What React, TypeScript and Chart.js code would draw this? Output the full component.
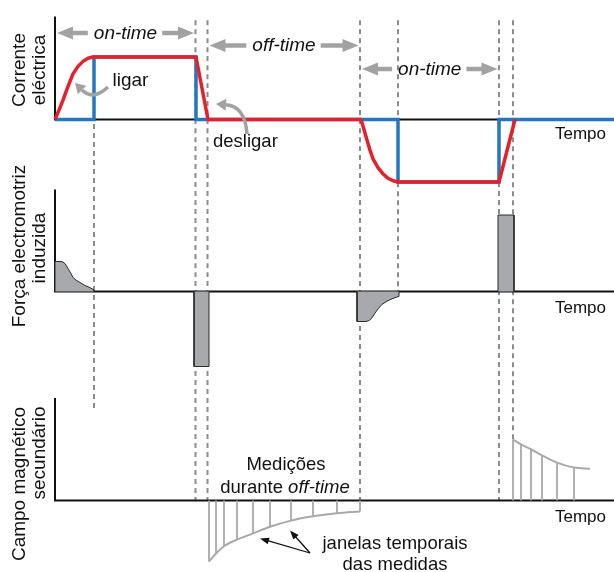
import { useEffect, useRef } from "react";
import { Chart, registerables } from "chart.js";

Chart.register(...registerables);

// ---- Data (time in arbitrary units; 0 = start of first on-time) ----
// Panel 1: transmitter current
const blueTimes = [0, 39, 39, 141, 141, 343, 343, 444, 444, 559];
const blueValues = [0, 0, 1, 1, 0, 0, -1, -1, 0, 0];
const redTimes = [0, 4, 8, 13, 18, 23, 28, 33, 38, 141, 153, 306, 309, 312, 315, 318, 323, 328, 333, 338, 343, 444, 460];
const redValues = [0, 0.15, 0.31, 0.53, 0.73, 0.85, 0.93, 0.98, 1, 1, 0, 0, -0.16, -0.33, -0.49, -0.63, -0.77, -0.87, -0.94, -0.98, -1, -1, 0];

// Panel 2: induced electromotive force
const emfOnTimes = [0, 0, 7, 10, 13, 16, 18, 21, 25, 30, 35, 39, 39];
const emfOnValues = [0, 1, 1, 0.93, 0.77, 0.6, 0.47, 0.38, 0.3, 0.2, 0.13, 0.05, 0];
const emfOffTimes = [139, 139, 154, 154];
const emfOffValues = [0, -2.5, -2.5, 0];
const emfOn2Times = [302, 302, 311, 314, 317, 320, 323, 327, 332, 338, 344, 344];
const emfOn2Values = [0, -1, -1, -0.97, -0.88, -0.72, -0.58, -0.43, -0.32, -0.23, -0.16, 0];
const emfOff2Times = [443, 443, 459, 459];
const emfOff2Values = [0, 2.55, 2.55, 0];

// Panel 3: secondary magnetic field (off-time decays) and measurement windows
const magOff1Times = [154, 161, 169, 182, 198, 215, 236, 258, 282, 305];
const magOff1Values = [-1, -0.87, -0.75, -0.64, -0.54, -0.43, -0.33, -0.26, -0.21, -0.18];
const magOff2Times = [458, 466, 476, 487, 502, 519, 535];
const magOff2Values = [1, 0.92, 0.84, 0.74, 0.62, 0.54, 0.52];
const magOff2WindowCount = 6;

// Event times (dashed guides)
const tOn1 = 39, tOff1 = 140.5, tOff1End = 152.5, tOn2 = 305, tOn2Full = 343, tOff2 = 444, tOff2End = 458;

const W = 614, H = 572;
const FONT = "'Liberation Sans', Arial, Helvetica, sans-serif";
const GRAY = "#a2a2a2";

const pts = (ts: number[], vs: number[]) => ts.map((t, i) => ({ x: t, y: vs[i] }));
const windows = (ts: number[], vs: number[], n: number) =>
  ts.slice(0, n).flatMap((t, i) => [{ x: t, y: 0 }, { x: t, y: vs[i] }, { x: t, y: null as any }]);

function arrow(ctx: CanvasRenderingContext2D, x1: number, y1: number, x2: number, y2: number, color: string, width: number, head: number, half: number) {
  const a = Math.atan2(y2 - y1, x2 - x1);
  const bx = x2 - head * Math.cos(a), by = y2 - head * Math.sin(a);
  ctx.strokeStyle = color; ctx.fillStyle = color; ctx.lineWidth = width; ctx.lineCap = "butt";
  ctx.beginPath(); ctx.moveTo(x1, y1); ctx.lineTo(bx + Math.cos(a), by + Math.sin(a)); ctx.stroke();
  ctx.beginPath(); ctx.moveTo(x2, y2);
  ctx.lineTo(bx + half * Math.sin(a), by - half * Math.cos(a));
  ctx.lineTo(bx - half * Math.sin(a), by + half * Math.cos(a));
  ctx.closePath(); ctx.fill();
}

function curvedArrow(ctx: CanvasRenderingContext2D, x0: number, y0: number, cx: number, cy: number, x1: number, y1: number) {
  const a = Math.atan2(y1 - cy, x1 - cx);
  const head = 10, half = 6;
  const bx = x1 - head * Math.cos(a), by = y1 - head * Math.sin(a);
  ctx.strokeStyle = GRAY; ctx.fillStyle = GRAY; ctx.lineWidth = 3.5; ctx.lineCap = "butt";
  ctx.beginPath(); ctx.moveTo(x0, y0); ctx.quadraticCurveTo(cx, cy, bx, by); ctx.stroke();
  ctx.beginPath(); ctx.moveTo(x1, y1);
  ctx.lineTo(bx + half * Math.sin(a), by - half * Math.cos(a));
  ctx.lineTo(bx - half * Math.sin(a), by + half * Math.cos(a));
  ctx.closePath(); ctx.fill();
}

function rotText(ctx: CanvasRenderingContext2D, text: string, x: number, cy: number) {
  ctx.save();
  ctx.translate(x, cy); ctx.rotate(-Math.PI / 2);
  ctx.textAlign = "center"; ctx.textBaseline = "alphabetic";
  ctx.fillText(text, 0, 0);
  ctx.restore();
}

const overlay = {
  id: "overlay",
  beforeDatasetsDraw(chart: any) {
    const ctx: CanvasRenderingContext2D = chart.ctx;
    const xs = chart.scales.x, yc = chart.scales.yCur, ye = chart.scales.yEmf, ym = chart.scales.yMag;
    const X = (t: number) => xs.getPixelForValue(t);
    ctx.save();
    // dashed guides
    ctx.strokeStyle = "#8c8c8c"; ctx.lineWidth = 2; ctx.setLineDash([5, 4]);
    const top = yc.getPixelForValue(1.59);
    const guides: [number, number, number][] = [
      [tOn1, yc.getPixelForValue(-0.07), ym.getPixelForValue(1.48)],
      [tOff1, top, ym.getPixelForValue(0)],
      [tOff1End, top, ym.getPixelForValue(0)],
      [tOn2, top, ym.getPixelForValue(0)],
      [tOn2Full, top, ye.getPixelForValue(0)],
      [tOff2, top, ym.getPixelForValue(0)],
      [tOff2End, top, ym.getPixelForValue(magOff2Values[0])],
    ];
    for (const [t, y0, y1] of guides) {
      ctx.beginPath(); ctx.moveTo(X(t), y0); ctx.lineTo(X(t), y1); ctx.stroke();
    }
    ctx.setLineDash([]);
    // axes
    ctx.strokeStyle = "#111"; ctx.lineWidth = 2;
    const axes: [any, number][] = [[yc, 1.65], [ye, 3.4], [ym, 1.68]];
    for (const [s, tv] of axes) {
      const y0 = s.getPixelForValue(0);
      ctx.beginPath(); ctx.moveTo(X(0), s.getPixelForValue(tv)); ctx.lineTo(X(0), y0); ctx.lineTo(xs.right, y0); ctx.stroke();
    }
    ctx.restore();
  },
  afterDatasetsDraw(chart: any) {
    const ctx: CanvasRenderingContext2D = chart.ctx;
    const xs = chart.scales.x;
    const X = (t: number) => xs.getPixelForValue(t);
    ctx.save();
    // on-time / off-time double arrows
    ctx.font = `italic 19px ${FONT}`;
    ctx.textAlign = "center"; ctx.textBaseline = "alphabetic";
    const spans: [string, number, number, number][] = [
      ["on-time", 0, tOff1, 33],
      ["off-time", tOff1End, tOn2, 45.5],
      ["on-time", tOn2, tOff2, 69],
    ];
    for (const [label, t0, t1, y] of spans) {
      const xa = X(t0) + 2, xb = X(t1) - 1.5;
      const cx = (xa + xb) / 2;
      const w = ctx.measureText(label).width;
      ctx.fillStyle = "#111";
      ctx.fillText(label, cx, y + 5.5);
      arrow(ctx, cx - w / 2 - 6, y, xa, y, GRAY, 4.5, 16, 6.5);
      arrow(ctx, cx + w / 2 + 5, y, xb, y, GRAY, 4.5, 16, 6.5);
    }
    // ligar / desligar
    ctx.fillStyle = "#111"; ctx.textAlign = "left";
    ctx.font = `19px ${FONT}`;
    ctx.fillText("ligar", 112.5, 86);
    ctx.font = `18.5px ${FONT}`;
    ctx.fillText("desligar", 213, 146.5);
    curvedArrow(ctx, 108, 87, 93, 101, 75, 83);
    curvedArrow(ctx, 247, 134, 245, 106, 216, 104);
    // Tempo labels
    ctx.fillStyle = "#111"; ctx.font = `17px ${FONT}`; ctx.textAlign = "left";
    ctx.fillText("Tempo", 555, 139);
    ctx.fillText("Tempo", 555, 313);
    ctx.fillText("Tempo", 555, 522);
    // axis titles
    ctx.font = `19px ${FONT}`;
    rotText(ctx, "Corrente", 25, 70);
    rotText(ctx, "eléctrica", 45, 70);
    rotText(ctx, "Força electromotriz", 25, 246);
    rotText(ctx, "induzida", 45, 248);
    rotText(ctx, "Campo magnético", 25, 484);
    rotText(ctx, "secundário", 45, 453);
    // measurement captions
    ctx.font = `18.5px ${FONT}`; ctx.textAlign = "center";
    ctx.fillText("Medições", 286, 470);
    const p1 = "durante ", p2 = "off-time";
    const w1 = ctx.measureText(p1).width;
    ctx.font = `italic 18.5px ${FONT}`;
    const w2 = ctx.measureText(p2).width;
    const start = 285 - (w1 + w2) / 2;
    ctx.textAlign = "left";
    ctx.font = `18.5px ${FONT}`; ctx.fillText(p1, start, 493);
    ctx.font = `italic 18.5px ${FONT}`; ctx.fillText(p2, start + w1, 493);
    ctx.font = `18.5px ${FONT}`; ctx.textAlign = "center";
    ctx.fillText("janelas temporais", 395, 549);
    ctx.fillText("das medidas", 395, 570);
    // thin black pointer arrows
    arrow(ctx, 310, 553, 260, 538.5, "#111", 1.3, 9, 3.5);
    arrow(ctx, 310, 553, 290, 530.5, "#111", 1.3, 9, 3.5);
    ctx.restore();
  },
};

export default function App() {
  const ref = useRef<HTMLCanvasElement>(null);
  useEffect(() => {
    const canvas = ref.current!;
    const yAxis = (baseline: number, unit: number) => ({
      type: "linear" as const, display: false, bounds: "data" as const,
      min: -(H - baseline) / unit, max: baseline / unit,
    });
    const emfStyle = { yAxisID: "yEmf", borderColor: "#2a2a2a", borderWidth: 1, backgroundColor: "#a7a9ac", fill: "origin", order: 2 };
    const magStyle = { yAxisID: "yMag", borderColor: "#a9a9a9", fill: false, order: 3 };
    const chart = new Chart(canvas, {
      type: "line",
      data: {
        datasets: [
          { label: "Corrente (rampa)", data: pts(redTimes, redValues), yAxisID: "yCur", borderColor: "#e6202b", borderWidth: 3.5, borderJoinStyle: "round", fill: false, order: 0 },
          { label: "Corrente", data: pts(blueTimes, blueValues), yAxisID: "yCur", borderColor: "#2676bf", borderWidth: 3.5, borderJoinStyle: "miter", fill: false, order: 1 },
          { label: "fem 1", data: pts(emfOnTimes, emfOnValues), ...emfStyle },
          { label: "fem 2", data: pts(emfOffTimes, emfOffValues), ...emfStyle },
          { label: "fem 3", data: pts(emfOn2Times, emfOn2Values), ...emfStyle },
          { label: "fem 4", data: pts(emfOff2Times, emfOff2Values), ...emfStyle },
          { label: "campo 1", data: pts(magOff1Times, magOff1Values), borderWidth: 2, cubicInterpolationMode: "monotone", ...magStyle },
          { label: "janelas 1", data: windows(magOff1Times, magOff1Values, magOff1Times.length), borderWidth: 1.8, ...magStyle },
          { label: "campo 2", data: pts(magOff2Times, magOff2Values), borderWidth: 2, cubicInterpolationMode: "monotone", ...magStyle },
          { label: "janelas 2", data: windows(magOff2Times, magOff2Values, magOff2WindowCount), borderWidth: 1.8, ...magStyle },
        ] as any,
      },
      options: {
        responsive: false,
        animation: false,
        events: [],
        layout: { padding: 0 },
        plugins: { legend: { display: false }, tooltip: { enabled: false } },
        elements: { point: { radius: 0 }, line: { tension: 0 } },
        scales: {
          x: { type: "linear", display: false, bounds: "data", min: -55, max: W - 55 },
          yCur: yAxis(119.5, 62.5),
          yEmf: yAxis(291.5, 30),
          yMag: yAxis(500.5, 61),
        } as any,
      },
      plugins: [overlay],
    });
    return () => chart.destroy();
  }, []);
  return (
    <div style={{ position: "fixed", left: 0, top: 0, width: W, height: H, background: "#fff" }}>
      <canvas ref={ref} width={W} height={H} style={{ display: "block" }} />
    </div>
  );
}
